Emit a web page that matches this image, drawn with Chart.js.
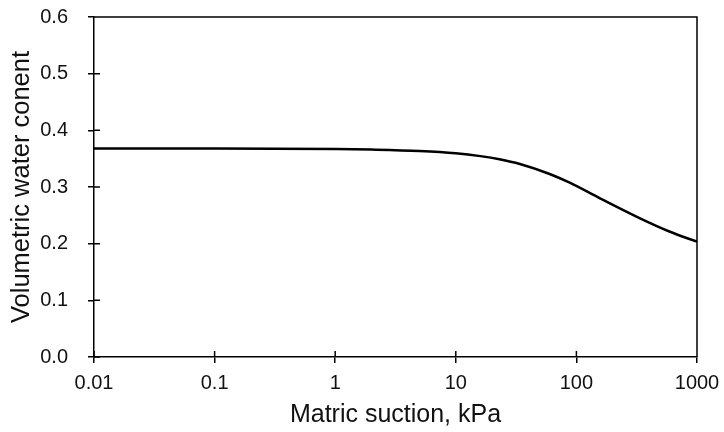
<!DOCTYPE html>
<html lang="en">
  <head>
    <meta charset="UTF-8" />
    <title>Soil water characteristic curve</title>
    <script src="https://cdn.jsdelivr.net/npm/chart.js@4.4.1/dist/chart.umd.min.js"></script>
    <style>
      html, body {
        margin: 0;
        padding: 0;
        background: white;
      }
      .chart-container {
        width: 724px;
        height: 432px;
      }
    </style>
  </head>
  <body>
    <div class="chart-container">
      <canvas id="myChart"></canvas>
    </div>

    <script>
      // values
      const suction = [0.01, 0.1, 1, 2, 5, 10, 16, 23, 34, 60, 88, 157, 337, 597, 1000];
      const waterContent = [0.368, 0.368, 0.367, 0.366, 0.3635, 0.3595, 0.3545, 0.349, 0.3406, 0.323, 0.3076, 0.28, 0.2447, 0.221, 0.2035];
      const xTicks = [0.01, 0.1, 1, 10, 100, 1000];
      const xTickLabels = ["0.01", "0.1", "1", "10", "100", "1000"];
      const yTicks = [0, 0.1, 0.2, 0.3, 0.4, 0.5, 0.6];

      // inner half of the tick marks + top/right frame
      const frame = {
        id: "frame",
        afterDraw(chart) {
          const ctx = chart.ctx;
          const a = chart.chartArea;
          const x = chart.scales.x;
          const y = chart.scales.y;
          ctx.save();
          ctx.strokeStyle = "black";
          ctx.lineWidth = 1.5;
          ctx.beginPath();
          xTicks.forEach((v) => {
            const px = x.getPixelForValue(v);
            ctx.moveTo(px, a.bottom);
            ctx.lineTo(px, a.bottom - 6);
          });
          yTicks.forEach((v) => {
            const py = y.getPixelForValue(v);
            ctx.moveTo(a.left, py);
            ctx.lineTo(a.left + 6, py);
          });
          ctx.moveTo(a.left, a.top);
          ctx.lineTo(a.right, a.top);
          ctx.lineTo(a.right, a.bottom);
          ctx.stroke();
          ctx.restore();
        },
      };

      const ctx = document.getElementById("myChart").getContext("2d");
      const myChart = new Chart(ctx, {
        type: "line",
        data: {
          datasets: [
            {
              data: suction.map((s, i) => ({ x: s, y: waterContent[i] })),
              borderColor: "black",
              backgroundColor: "black",
              borderWidth: 2.5,
              pointRadius: 0,
              cubicInterpolationMode: "monotone",
            },
          ],
        },
        options: {
          responsive: true,
          maintainAspectRatio: false,
          animation: false,
          layout: {
            padding: { top: 17, right: 27, left: 0, bottom: 0 },
          },
          scales: {
            x: {
              type: "logarithmic",
              min: 0.01,
              max: 1000,
              afterBuildTicks(scale) {
                scale.ticks = xTicks.map((v) => ({ value: v }));
              },
              afterFit(scale) {
                scale.height = 75;
                scale.paddingLeft = 0;
                scale.paddingRight = 0;
              },
              grid: {
                drawOnChartArea: false,
                drawTicks: true,
                tickLength: 6,
                color: "black",
                lineWidth: 1.5,
              },
              border: { display: true, color: "black", width: 1.5 },
              ticks: {
                color: "#111",
                font: { family: "Liberation Sans", size: 20 },
                padding: 8,
                maxRotation: 0,
                autoSkip: false,
                callback: (v) => xTickLabels[xTicks.indexOf(v)] ?? "",
              },
              title: {
                display: true,
                text: "Matric suction, kPa",
                color: "#111",
                font: { family: "Liberation Sans", size: 25 },
                padding: { top: 0, bottom: 2 },
              },
            },
            y: {
              min: 0,
              max: 0.6,
              afterBuildTicks(scale) {
                scale.ticks = yTicks.map((v) => ({ value: v }));
              },
              afterFit(scale) {
                scale.width = 94;
                scale.paddingTop = 0;
                scale.paddingBottom = 0;
              },
              grid: {
                drawOnChartArea: false,
                drawTicks: true,
                tickLength: 6,
                color: "black",
                lineWidth: 1.5,
              },
              border: { display: true, color: "black", width: 1.5 },
              ticks: {
                color: "#111",
                font: { family: "Liberation Sans", size: 20 },
                padding: 20,
                callback: (v) => v.toFixed(1),
              },
              title: {
                display: true,
                text: "Volumetric water conent",
                color: "#111",
                font: { family: "Liberation Sans", size: 25.5 },
                padding: { top: 7, bottom: 0 },
              },
            },
          },
          plugins: {
            legend: { display: false },
            tooltip: { enabled: false },
          },
        },
        plugins: [frame],
      });
    </script>
  </body>
</html>
